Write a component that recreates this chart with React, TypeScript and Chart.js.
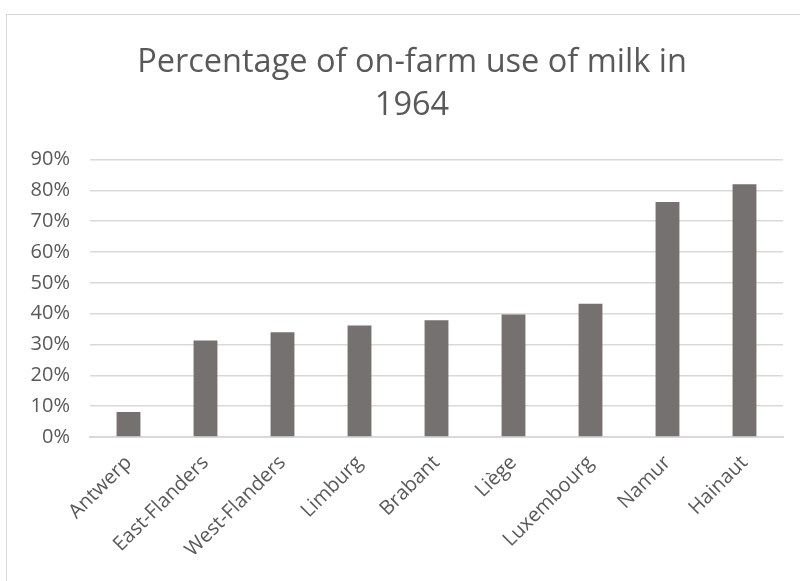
import { useEffect, useRef } from "react";
import { Chart, registerables } from "chart.js";

Chart.register(...registerables);

// On-farm use of milk per province, 1964 (share of production, %)
const provinces = [
  "Antwerp",
  "East-Flanders",
  "West-Flanders",
  "Limburg",
  "Brabant",
  "Liège",
  "Luxembourg",
  "Namur",
  "Hainaut",
];
const onFarmShare = [8.1, 31.3, 34.0, 36.2, 37.9, 39.7, 43.2, 76.2, 82.0];
const titleLines = ["Percentage of on-farm use of milk in", "1964"];
const yMax = 90;
const yStep = 10;

const FONT = "'Open Sans', 'Noto Sans', sans-serif";
const TEXT = "#595959";
const GRID = "#d9d9d9";
const BAR = "#767171";

const W = 810;
const H = 567;

export default function App() {
  const ref = useRef<HTMLCanvasElement | null>(null);

  useEffect(() => {
    if (!ref.current) return;
    const chart = new Chart(ref.current, {
      type: "bar",
      data: {
        labels: provinces,
        datasets: [
          {
            data: onFarmShare,
            backgroundColor: BAR,
            borderWidth: 0,
            categoryPercentage: 1,
            barPercentage: 0.31,
          },
        ],
      },
      options: {
        responsive: false,
        animation: false,
        layout: { padding: 0 },
        plugins: {
          legend: { display: false },
          tooltip: { enabled: false },
          title: {
            display: true,
            text: titleLines,
            color: TEXT,
            font: { family: FONT, size: 32.5, weight: "normal", lineHeight: 1.3 },
            padding: { top: 27, bottom: 33 },
          },
        },
        scales: {
          x: {
            grid: { display: false, drawTicks: false },
            border: { display: true, color: GRID, width: 2 },
            ticks: {
              color: TEXT,
              font: { family: FONT, size: 20 },
              minRotation: 45,
              maxRotation: 45,
              autoSkip: false,
              padding: 14,
            },
            afterFit: (s: any) => {
              s.height = H - 422;
            },
          },
          y: {
            min: 0,
            max: yMax,
            grid: { color: GRID, lineWidth: 1.5, drawTicks: false },
            border: { display: false },
            ticks: {
              stepSize: yStep,
              color: TEXT,
              font: { family: FONT, size: 20 },
              padding: 20,
              callback: (v: any) => `${v}%`,
            },
            afterFit: (s: any) => {
              s.width = 83;
            },
          },
          // empty right-hand margin of the plot
          gutter: {
            type: "linear",
            position: "right",
            grid: { display: false, drawTicks: false },
            border: { display: false },
            ticks: { display: false },
            afterFit: (s: any) => {
              s.width = 34;
            },
          },
        },
      },
    });
    return () => chart.destroy();
  }, []);

  return (
    <div
      style={{
        position: "fixed",
        left: 6,
        top: 14,
        width: W,
        height: 600,
        border: `1px solid ${GRID}`,
        background: "#fff",
      }}
    >
      <canvas ref={ref} width={W} height={H} style={{ display: "block" }} />
    </div>
  );
}
